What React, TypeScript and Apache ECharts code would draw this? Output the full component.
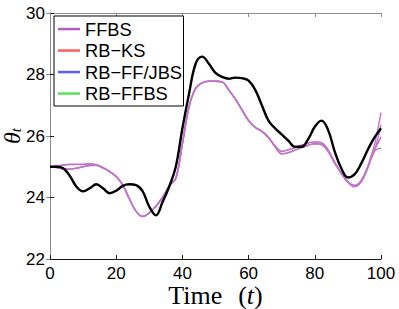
import React, { useEffect, useRef } from "react";
import * as echarts from "echarts";

const timeSteps = [0, 2, 4, 6, 8, 10, 12, 14, 16, 18, 20, 22, 24, 26, 28, 30, 32, 34, 36, 38, 40, 42, 44, 46, 48, 50, 52, 54, 56, 58, 60, 62, 64, 66, 68, 70, 72, 74, 76, 78, 80, 82, 84, 86, 88, 90, 92, 94, 96, 97, 98, 99, 100];

const trueTheta = [25.0, 25.0, 24.95, 24.7, 24.35, 24.2, 24.3, 24.43, 24.3, 24.14, 24.22, 24.38, 24.43, 24.4, 24.2, 23.7, 23.42, 23.85, 24.35, 25.0, 26.25, 27.37, 28.35, 28.58, 28.35, 28.05, 27.92, 27.86, 27.9, 27.88, 27.8, 27.5, 27.0, 26.5, 26.25, 26.05, 25.85, 25.65, 25.65, 25.9, 26.3, 26.5, 26.2, 25.5, 24.95, 24.65, 24.75, 25.1, 25.55, 25.76, 25.95, 26.1, 26.25];

const ffbs = [25.0, 25.03, 25.06, 25.08, 25.08, 25.08, 25.1, 25.07, 24.97, 24.84, 24.68, 24.4, 23.95, 23.55, 23.38, 23.5, 23.72, 24.0, 24.38, 24.62, 25.75, 26.95, 27.55, 27.73, 27.78, 27.78, 27.76, 27.5, 27.2, 26.85, 26.5, 26.28, 26.15, 25.95, 25.68, 25.5, 25.55, 25.62, 25.7, 25.77, 25.81, 25.78, 25.55, 25.15, 24.8, 24.5, 24.35, 24.5, 24.95, 25.25, 25.5, 25.9, 26.36];

const rbKs = [25.0, 24.97, 24.93, 24.92, 24.95, 25.0, 25.04, 25.05, 24.96, 24.84, 24.68, 24.4, 23.95, 23.55, 23.38, 23.5, 23.72, 24.0, 24.38, 24.62, 25.75, 26.95, 27.55, 27.73, 27.78, 27.78, 27.76, 27.5, 27.2, 26.85, 26.5, 26.28, 26.15, 25.95, 25.65, 25.42, 25.46, 25.54, 25.62, 25.7, 25.75, 25.72, 25.5, 25.12, 24.78, 24.5, 24.37, 24.52, 25.0, 25.35, 25.7, 26.2, 26.76];

const rbFfJbs = [25.0, 25.02, 25.05, 25.07, 25.07, 25.07, 25.09, 25.06, 24.97, 24.84, 24.68, 24.4, 23.95, 23.55, 23.38, 23.5, 23.72, 24.0, 24.38, 24.62, 25.75, 26.95, 27.55, 27.73, 27.78, 27.78, 27.76, 27.5, 27.2, 26.85, 26.5, 26.28, 26.15, 25.95, 25.68, 25.5, 25.55, 25.62, 25.7, 25.77, 25.81, 25.78, 25.55, 25.15, 24.8, 24.52, 24.4, 24.55, 24.98, 25.3, 25.55, 25.75, 25.98];

const rbFfbs = [25.0, 24.97, 24.94, 24.93, 24.96, 25.0, 25.04, 25.05, 24.96, 24.84, 24.68, 24.4, 23.95, 23.55, 23.38, 23.5, 23.72, 24.0, 24.38, 24.62, 25.75, 26.95, 27.55, 27.73, 27.78, 27.78, 27.76, 27.5, 27.2, 26.85, 26.5, 26.28, 26.15, 25.95, 25.65, 25.42, 25.46, 25.54, 25.62, 25.7, 25.75, 25.72, 25.5, 25.12, 24.78, 24.5, 24.38, 24.55, 25.0, 25.3, 25.5, 25.58, 25.6];

const seriesNames = ["FFBS", "RB−KS", "RB−FF/JBS", "RB−FFBS"];
const legendColors = ["#b35fc0", "#ff5c5c", "#5c5cff", "#5ce05c"];
const xTicks = { min: 0, max: 100, interval: 20 };
const yTicks = { min: 22, max: 30, interval: 2 };

const pair = (vals: number[]) => timeSteps.map((t, i) => [t, vals[i]]);

export default function App() {
  const ref = useRef<HTMLDivElement>(null);
  useEffect(() => {
    if (!ref.current) return;
    const chart = echarts.init(ref.current, null, { renderer: "svg" });
    const purple = "#c173ca";
    const estSeries = [ffbs, rbKs, rbFfJbs, rbFfbs];
    const sans = "Liberation Sans, Arial, sans-serif";
    const serif = "Liberation Serif, Times New Roman, serif";
    const labelFont = { fontFamily: sans, fontSize: 17, color: "#000" };
    const legendText = { fontFamily: sans, fontSize: 18.3, lineHeight: 21.5, color: "#000" };
    chart.setOption({
      animation: false,
      grid: { left: 50, right: 18, top: 13, bottom: 50, outerBoundsMode: "none", containLabel: false },
      legend: {
        orient: "vertical",
        left: 54,
        top: 16,
        padding: [2.3, 1.5, 1.7, 4],
        itemWidth: 22,
        itemHeight: 2.5,
        itemGap: 0,
        icon: "rect",
        borderColor: "#000",
        borderWidth: 1,
        backgroundColor: "#fff",
        textStyle: legendText,
        data: seriesNames.map((n, i) => ({ name: n, itemStyle: { color: legendColors[i] }, textStyle: legendText })),
      },
      xAxis: [
        {
          type: "value",
          min: xTicks.min,
          max: xTicks.max,
          interval: xTicks.interval,
          position: "bottom",
          name: "{a|Time}{s|}{a|(}{b|t}{a|)}",
          nameLocation: "middle",
          nameGap: 26,
          nameMoveOverlap: false,
          nameTextStyle: {
            rich: {
              a: { fontFamily: serif, fontSize: 26, lineHeight: 20, color: "#000" },
              b: { fontFamily: serif, fontSize: 26, lineHeight: 20, fontStyle: "italic", color: "#000" },
              s: { width: 16, lineHeight: 20 },
            },
          },
          axisLine: { show: true, lineStyle: { color: "#1a1a1a", width: 1 } },
          axisTick: { show: true, inside: true, length: 4, lineStyle: { color: "#1a1a1a" } },
          axisLabel: { ...labelFont, margin: 6 },
          splitLine: { show: false },
        },
        {
          type: "value",
          min: xTicks.min,
          max: xTicks.max,
          interval: xTicks.interval,
          position: "top",
          axisLine: { show: true, lineStyle: { color: "#8c8c8c", width: 1 } },
          axisTick: { show: true, inside: true, length: 4, lineStyle: { color: "#8c8c8c" } },
          axisLabel: { show: false },
          splitLine: { show: false },
        },
      ],
      yAxis: [
        {
          type: "value",
          min: yTicks.min,
          max: yTicks.max,
          interval: yTicks.interval,
          position: "left",
          name: "{a|θ}{b|t}",
          nameLocation: "middle",
          nameRotate: 90,
          nameGap: 26,
          nameMoveOverlap: false,
          nameTextStyle: {
            rich: {
              a: { fontFamily: serif, fontSize: 24, fontStyle: "italic", color: "#000" },
              b: { fontFamily: serif, fontSize: 15, fontStyle: "italic", color: "#000", padding: [8, 0, 0, 0] },
            },
          },
          axisLine: { show: true, lineStyle: { color: "#1a1a1a", width: 1 } },
          axisTick: { show: true, inside: true, length: 4, lineStyle: { color: "#1a1a1a" } },
          axisLabel: { ...labelFont, margin: 5 },
          splitLine: { show: false },
        },
        {
          type: "value",
          min: yTicks.min,
          max: yTicks.max,
          interval: yTicks.interval,
          position: "right",
          axisLine: { show: true, lineStyle: { color: "#8c8c8c", width: 1 } },
          axisTick: { show: true, inside: true, length: 4, lineStyle: { color: "#8c8c8c" } },
          axisLabel: { show: false },
          splitLine: { show: false },
        },
      ],
      series: [
        ...estSeries.map((vals, i) => ({
          name: seriesNames[i],
          type: "line",
          data: pair(vals),
          smooth: 0.4,
          symbol: "none",
          itemStyle: { color: legendColors[i] },
          lineStyle: { color: purple, width: 1.4 },
          z: 2,
        })),
        {
          name: "True",
          type: "line",
          data: pair(trueTheta),
          smooth: 0.4,
          symbol: "none",
          itemStyle: { color: "#000" },
          lineStyle: { color: "#000", width: 2.4 },
          z: 3,
        },
      ],
    });
    return () => chart.dispose();
  }, []);
  return <div ref={ref} style={{ width: 399, height: 309, position: "absolute", left: 0, top: 0 }} />;
}
